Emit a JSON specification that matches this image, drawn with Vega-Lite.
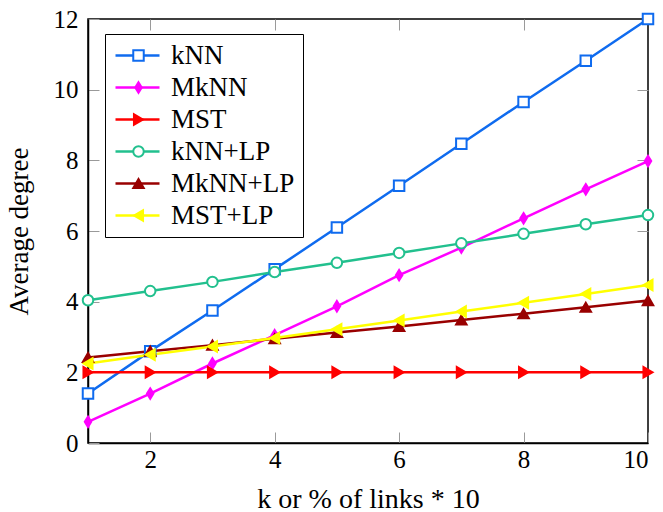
{
  "$schema": "https://vega.github.io/schema/vega-lite/v6.json",
  "width": 560,
  "height": 424,
  "autosize": "none",
  "padding": {"left": 88, "top": 19, "right": 15, "bottom": 69},
  "config": {
    "view": {"stroke": "black", "strokeWidth": 1.5},
    "font": "Liberation Serif",
    "axis": {
      "labelFont": "Liberation Serif",
      "titleFont": "Liberation Serif",
      "labelFontSize": 25,
      "titleFontSize": 27,
      "titleFontWeight": "normal",
      "labelColor": "black",
      "titleColor": "black",
      "tickColor": "#9a9a9a",
      "tickSize": -11,
      "tickWidth": 1,
      "domainColor": "black",
      "domainWidth": 1.5,
      "grid": false
    },
    "legend": {"labelFont": "Liberation Serif"}
  },
  "data": {
    "values": [
      {"series": "kNN", "ord": 1, "k": 1, "deg": 1.4},
      {"series": "kNN", "ord": 1, "k": 2, "deg": 2.6},
      {"series": "kNN", "ord": 1, "k": 3, "deg": 3.75},
      {"series": "kNN", "ord": 1, "k": 4, "deg": 4.92},
      {"series": "kNN", "ord": 1, "k": 5, "deg": 6.1},
      {"series": "kNN", "ord": 1, "k": 6, "deg": 7.28},
      {"series": "kNN", "ord": 1, "k": 7, "deg": 8.47},
      {"series": "kNN", "ord": 1, "k": 8, "deg": 9.65},
      {"series": "kNN", "ord": 1, "k": 9, "deg": 10.82},
      {"series": "kNN", "ord": 1, "k": 10, "deg": 12.0},
      {"series": "MkNN", "ord": 2, "k": 1, "deg": 0.6},
      {"series": "MkNN", "ord": 2, "k": 2, "deg": 1.4},
      {"series": "MkNN", "ord": 2, "k": 3, "deg": 2.25},
      {"series": "MkNN", "ord": 2, "k": 4, "deg": 3.05},
      {"series": "MkNN", "ord": 2, "k": 5, "deg": 3.87},
      {"series": "MkNN", "ord": 2, "k": 6, "deg": 4.75},
      {"series": "MkNN", "ord": 2, "k": 7, "deg": 5.53},
      {"series": "MkNN", "ord": 2, "k": 8, "deg": 6.36},
      {"series": "MkNN", "ord": 2, "k": 9, "deg": 7.18},
      {"series": "MkNN", "ord": 2, "k": 10, "deg": 7.98},
      {"series": "MST", "ord": 3, "k": 1, "deg": 2},
      {"series": "MST", "ord": 3, "k": 2, "deg": 2},
      {"series": "MST", "ord": 3, "k": 3, "deg": 2},
      {"series": "MST", "ord": 3, "k": 4, "deg": 2},
      {"series": "MST", "ord": 3, "k": 5, "deg": 2},
      {"series": "MST", "ord": 3, "k": 6, "deg": 2},
      {"series": "MST", "ord": 3, "k": 7, "deg": 2},
      {"series": "MST", "ord": 3, "k": 8, "deg": 2},
      {"series": "MST", "ord": 3, "k": 9, "deg": 2},
      {"series": "MST", "ord": 3, "k": 10, "deg": 2},
      {"series": "kNN+LP", "ord": 4, "k": 1, "deg": 4.04},
      {"series": "kNN+LP", "ord": 4, "k": 2, "deg": 4.3},
      {"series": "kNN+LP", "ord": 4, "k": 3, "deg": 4.56},
      {"series": "kNN+LP", "ord": 4, "k": 4, "deg": 4.84},
      {"series": "kNN+LP", "ord": 4, "k": 5, "deg": 5.1},
      {"series": "kNN+LP", "ord": 4, "k": 6, "deg": 5.38},
      {"series": "kNN+LP", "ord": 4, "k": 7, "deg": 5.65},
      {"series": "kNN+LP", "ord": 4, "k": 8, "deg": 5.92},
      {"series": "kNN+LP", "ord": 4, "k": 9, "deg": 6.19},
      {"series": "kNN+LP", "ord": 4, "k": 10, "deg": 6.45},
      {"series": "MkNN+LP", "ord": 5, "k": 1, "deg": 2.42},
      {"series": "MkNN+LP", "ord": 5, "k": 2, "deg": 2.6},
      {"series": "MkNN+LP", "ord": 5, "k": 3, "deg": 2.77},
      {"series": "MkNN+LP", "ord": 5, "k": 4, "deg": 2.95},
      {"series": "MkNN+LP", "ord": 5, "k": 5, "deg": 3.13},
      {"series": "MkNN+LP", "ord": 5, "k": 6, "deg": 3.3},
      {"series": "MkNN+LP", "ord": 5, "k": 7, "deg": 3.48},
      {"series": "MkNN+LP", "ord": 5, "k": 8, "deg": 3.66},
      {"series": "MkNN+LP", "ord": 5, "k": 9, "deg": 3.84},
      {"series": "MkNN+LP", "ord": 5, "k": 10, "deg": 4.03},
      {"series": "MST+LP", "ord": 6, "k": 1, "deg": 2.25},
      {"series": "MST+LP", "ord": 6, "k": 2, "deg": 2.5},
      {"series": "MST+LP", "ord": 6, "k": 3, "deg": 2.73},
      {"series": "MST+LP", "ord": 6, "k": 4, "deg": 2.97},
      {"series": "MST+LP", "ord": 6, "k": 5, "deg": 3.22},
      {"series": "MST+LP", "ord": 6, "k": 6, "deg": 3.47},
      {"series": "MST+LP", "ord": 6, "k": 7, "deg": 3.72},
      {"series": "MST+LP", "ord": 6, "k": 8, "deg": 3.97},
      {"series": "MST+LP", "ord": 6, "k": 9, "deg": 4.22},
      {"series": "MST+LP", "ord": 6, "k": 10, "deg": 4.47}
    ]
  },
  "layer": [
    {
      "mark": {"type": "line", "strokeWidth": 2.5},
      "encoding": {
        "x": {
          "field": "k", "type": "quantitative",
          "scale": {"domain": [1, 10], "nice": false, "zero": false},
          "axis": {"orient": "bottom", "values": [2, 4, 6, 8, 10], "title": "k or % of links * 10", "titleFontSize": 28, "labelPadding": 15, "titlePadding": 13}
        },
        "y": {
          "field": "deg", "type": "quantitative",
          "scale": {"domain": [0, 12], "nice": false},
          "axis": {"orient": "left", "values": [0, 2, 4, 6, 8, 10, 12], "title": "Average degree", "labelPadding": 21, "titlePadding": 20}
        },
        "color": {
          "field": "series", "type": "nominal",
          "scale": {
            "domain": ["kNN", "MkNN", "MST", "kNN+LP", "MkNN+LP", "MST+LP"],
            "range": ["#0f6bef", "#ff00ff", "#ff0000", "#22c08e", "#990000", "#ffff00"]
          },
          "legend": {
            "orient": "none", "legendX": 17, "legendY": 15, "title": null,
            "symbolType": "M-1,0H3", "symbolSize": 484, "symbolStrokeWidth": 2.5,
            "labelFontSize": 27, "labelColor": "black", "labelOffset": 31, "labelLimit": 300,
            "padding": 8, "rowPadding": 4, "strokeColor": "black", "fillColor": "white"
          }
        }
      }
    },
    {
      "mark": {"type": "point", "size": 110, "strokeWidth": 2, "opacity": 1, "fillOpacity": 1},
      "encoding": {
        "x": {
          "field": "k", "type": "quantitative",
          "scale": {"domain": [1, 10], "nice": false, "zero": false},
          "axis": {"orient": "top", "values": [2, 4, 6, 8], "labels": false, "title": null, "domain": false}
        },
        "y": {
          "field": "deg", "type": "quantitative",
          "scale": {"domain": [0, 12], "nice": false},
          "axis": {"orient": "right", "values": [2, 4, 6, 8, 10], "labels": false, "title": null, "domain": false}
        },
        "shape": {
          "field": "series", "type": "nominal", "sort": {"field": "ord", "op": "min"},
          "scale": {"range": ["square", "M0,-1L0.62,0L0,1L-0.62,0Z", "triangle-right", "circle", "triangle-up", "triangle-left"]},
          "legend": {
            "orient": "none", "legendX": 29, "legendY": 15, "title": null,
            "symbolSize": 110, "symbolStrokeWidth": 2, "labelFontSize": 27, "labelExpr": "' '",
            "labelOffset": 8, "labelLimit": 300, "padding": 8, "rowPadding": 4
          }
        },
        "fill": {
          "field": "series", "type": "nominal", "sort": {"field": "ord", "op": "min"},
          "scale": {"range": ["#ffffff", "#ff00ff", "#ff0000", "#ffffff", "#990000", "#ffff00"]},
          "legend": {
            "orient": "none", "legendX": 29, "legendY": 15, "title": null,
            "symbolSize": 110, "symbolStrokeWidth": 2, "labelFontSize": 27, "labelExpr": "' '",
            "labelOffset": 8, "labelLimit": 300, "padding": 8, "rowPadding": 4
          }
        },
        "stroke": {
          "field": "series", "type": "nominal", "sort": {"field": "ord", "op": "min"},
          "scale": {"range": ["#0f6bef", "#ff00ff", "#ff0000", "#22c08e", "#990000", "#ffff00"]},
          "legend": {
            "orient": "none", "legendX": 29, "legendY": 15, "title": null,
            "symbolSize": 110, "symbolStrokeWidth": 2, "labelFontSize": 27, "labelExpr": "' '",
            "labelOffset": 8, "labelLimit": 300, "padding": 8, "rowPadding": 4
          }
        }
      }
    }
  ],
  "resolve": {"axis": {"x": "independent", "y": "independent"}}
}
